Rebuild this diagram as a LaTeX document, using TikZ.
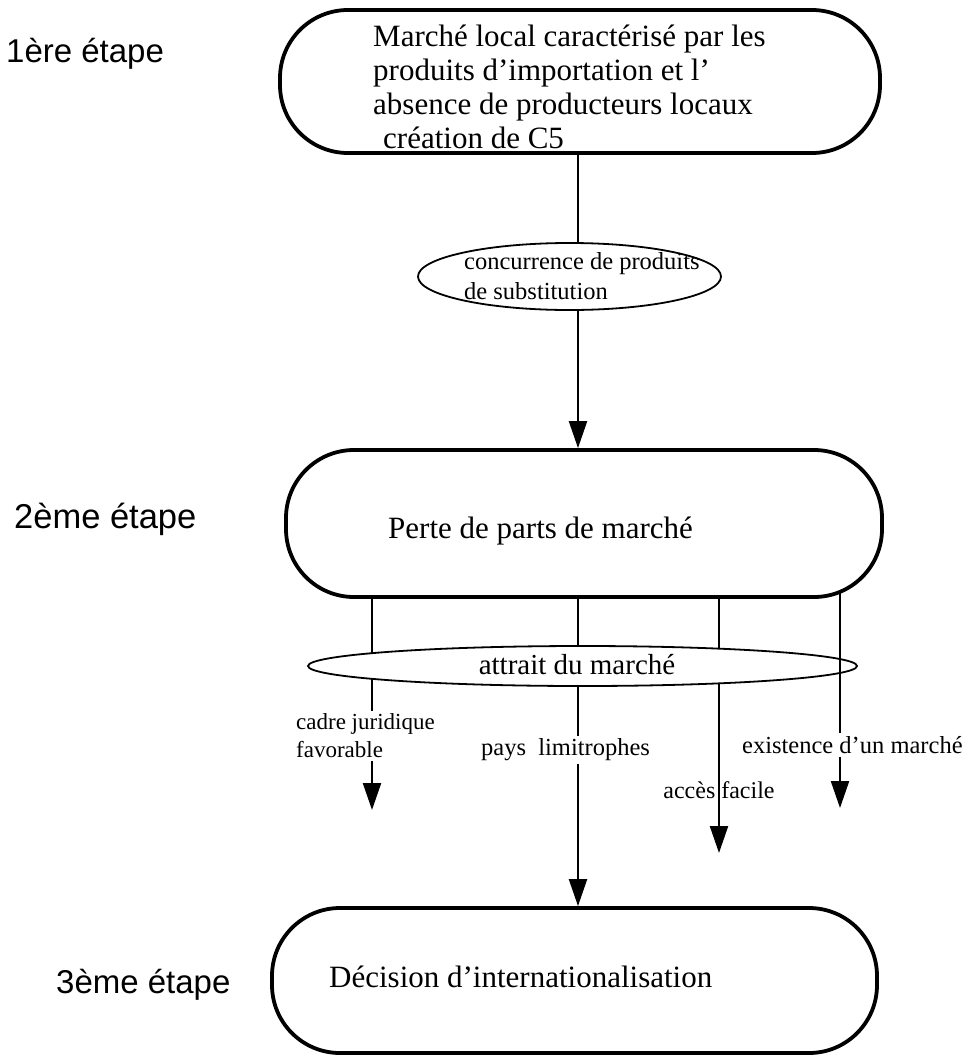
\documentclass[tikz,border=0pt]{standalone}
\usepackage{fontspec}
\setmainfont{Liberation Serif}
\newfontfamily\stepfont{Liberation Sans}
\usetikzlibrary{shapes.geometric,arrows.meta,backgrounds}
\begin{document}
\begin{tikzpicture}[x=1bp,y=-1bp,
  stagebox/.style={draw, line width=3.8bp, rounded corners=68bp, fill=white, inner sep=0pt},
  oval/.style={draw, ellipse, line width=1.8bp, fill=white, inner sep=0pt},
  conn/.style={line width=2.2bp},
  arr/.style={conn, -{Triangle[length=27bp,width=18bp]}},
  steplabel/.style={anchor=west, inner sep=0pt, font=\stepfont\fontsize{33bp}{40bp}\selectfont},
  boxtext/.style={anchor=west, inner sep=0pt, align=left, font=\fontsize{31bp}{34bp}\selectfont},
  smalltext/.style={anchor=west, inner sep=3bp, align=left, font=\fontsize{24.5bp}{28bp}\selectfont},
]
\useasboundingbox (0,0) rectangle (970,1055);

% stage boxes
\node[stagebox, minimum width=600bp, minimum height=143bp] (tb) at (580,81.5) {};
\node[stagebox, minimum width=596bp, minimum height=147bp] (mb) at (584,523.5) {};
\node[stagebox, minimum width=605bp, minimum height=145bp] (bb) at (574.5,980.5) {};

% ovals
\node[oval, minimum width=303bp, minimum height=67bp] (e1) at (569.5,276.5) {};
\node[oval, minimum width=549bp, minimum height=40bp] (e2) at (582.5,666) {};

% box and oval texts
\node[boxtext] (t1) at (373,86.5) {Marché local caractérisé par les\\produits d'importation et l'\\absence de producteurs locaux\\\hspace{10bp}création de C5};
\node[boxtext] (t2) at (388,531) {Perte de parts de marché};
\node[boxtext] (t3) at (329,977) {Décision d'internationalisation};
\node[anchor=west, inner sep=0pt, align=left, font=\fontsize{24.5bp}{30bp}\selectfont] (t4) at (464,276.5) {concurrence de produits\\de substitution};
\node[inner sep=0pt, font=\fontsize{29bp}{34bp}\selectfont] (t5) at (577,665) {attrait du marché};

% stage labels
\node[steplabel] (s1) at (6,54) {1ère étape};
\node[steplabel, font=\stepfont\fontsize{34.5bp}{40bp}\selectfont] (s2) at (14,519) {2ème étape};
\node[steplabel] (s3) at (56,985) {3ème étape};

% factor labels
\node[smalltext, font=\fontsize{23bp}{28bp}\selectfont] (l1) at (293,736) {cadre juridique\\favorable};
\node[smalltext] (l2) at (478,750) {pays\ \ limitrophes};
\node[smalltext, font=\fontsize{24bp}{28bp}\selectfont, inner sep=0pt, anchor=center] (l3) at (719,790) {accès facile};
\node[smalltext] (l4) at (739,745) {existence d'un marché};

% columns and free arrow ends
\coordinate (c1) at (372,0);
\coordinate (c2) at (578,0);
\coordinate (c3) at (719,0);
\coordinate (c4) at (840,0);
\coordinate (tip1) at (372,810);
\coordinate (tip3) at (719,853);
\coordinate (tip4) at (840,808);

% connectors hidden behind the filled nodes
\begin{pgfonlayer}{background}
  \draw[conn] (tb.south -| c2) -- (e1.center -| c2);
  \draw[arr] (e1.center -| c2) -- (mb.north -| c2);
  \draw[conn] (mb.south -| c1) -- (e2.center -| c1);
  \draw[conn] (mb.south -| c2) -- (e2.center -| c2);
  \draw[conn] (mb.south -| c3) -- (e2.center -| c3);
  \draw[conn] (e2.center -| c1) -- (l1.north -| c1);
  \draw[arr] (l1.south -| c1) -- (tip1);
  \draw[conn] (e2.center -| c2) -- (l2.north -| c2);
  \draw[arr] (l2.south -| c2) -- (bb.north -| c2);
  \draw[arr] (e2.center -| c3) -- (tip3);
\end{pgfonlayer}

% the outer column crosses the oval
\draw[conn, shorten <=-6bp] (mb.south -| c4) -- (l4.north -| c4);
\draw[arr] (l4.south -| c4) -- (tip4);
\end{tikzpicture}
\end{document}
